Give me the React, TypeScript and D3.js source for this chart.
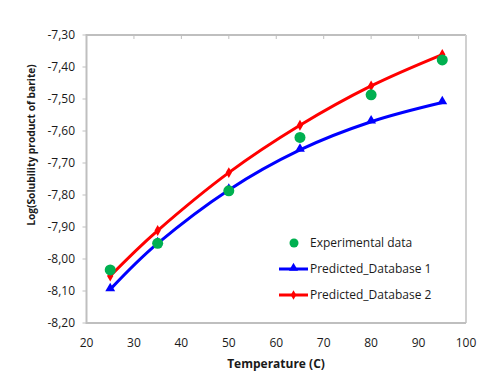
import React from "react";
import * as d3 from "d3";

const temps = [25, 35, 50, 65, 80, 95];
const experimental = [-8.034, -7.951, -7.787, -7.62, -7.487, -7.378];
const database1 = [-8.095, -7.951, -7.784, -7.659, -7.571, -7.511];
const database2 = [-8.053, -7.911, -7.73, -7.582, -7.459, -7.361];
const xTicks = [20, 30, 40, 50, 60, 70, 80, 90, 100];
const yTicks = [-8.2, -8.1, -8.0, -7.9, -7.8, -7.7, -7.6, -7.5, -7.4, -7.3];
const legendLabels = ["Experimental data", "Predicted_Database 1", "Predicted_Database 2"];

const W = 500;
const H = 382;
const L = 86.5, R = 466, T = 35, B = 323;
const FONT = "'Open Sans', sans-serif";

export default function App() {
  const x = d3.scaleLinear().domain([20, 100]).range([L, R]);
  const y = d3.scaleLinear().domain([-8.2, -7.3]).range([B, T]);
  const line = d3
    .line<number>()
    .x((_, i) => x(temps[i]))
    .y((d) => y(d))
    .curve(d3.curveCardinal.tension(0));
  const fmt = (v: number) => v.toFixed(2).replace(".", ",");
  const tri = d3.symbol().type(d3.symbolTriangle).size(42)();
  const dia = d3.symbol().type(d3.symbolDiamond).size(34)();
  const triSmall = d3.symbol().type(d3.symbolTriangle).size(36)();
  const diaSmall = d3.symbol().type(d3.symbolDiamond).size(26)();

  return (
    <svg width={W} height={H} style={{ position: "absolute", left: 0, top: 0 }}>
      <rect x={0} y={0} width={W} height={H} fill="#fff" />
      <line x1={L} x2={R} y1={T} y2={T} stroke="#bfbfbf" strokeWidth={2} />
      <line x1={R} x2={R} y1={T} y2={B} stroke="#d0d0d0" strokeWidth={2} />
      <line x1={L} x2={R} y1={B} y2={B} stroke="#bfbfbf" strokeWidth={2} />
      <line x1={L} x2={L} y1={T - 1} y2={B + 1} stroke="#bfbfbf" strokeWidth={2} />
      {xTicks.slice(1, -1).map((t) => (
        <line key={"xt" + t} x1={x(t)} x2={x(t)} y1={T} y2={T + 4} stroke="#bfbfbf" strokeWidth={1} />
      ))}
      {yTicks.map((t) => (
        <g key={"yt" + t}>
          <line x1={L - 4} x2={L} y1={y(t)} y2={y(t)} stroke="#bfbfbf" strokeWidth={1} />
          <text x={75} y={y(t)} dy="0.35em" textAnchor="end" fontFamily={FONT} fontSize={12} fill="#1a1a1a">
            {fmt(t)}
          </text>
        </g>
      ))}
      {xTicks.map((t) => (
        <text key={"xl" + t} x={x(t)} y={347} textAnchor="middle" fontFamily={FONT} fontSize={12} fill="#1a1a1a">
          {t}
        </text>
      ))}
      <text x={276} y={368} textAnchor="middle" fontFamily={FONT} fontSize={12} fontWeight="bold" fill="#1a1a1a">
        Temperature (C)
      </text>
      <text
        transform={`translate(35,145) rotate(-90)`}
        textAnchor="middle"
        fontFamily={FONT}
        fontSize={10.2}
        fontWeight="bold"
        fill="#1a1a1a"
      >
        Log(Solubility product of barite)
      </text>
      <path d={line(database2) || ""} fill="none" stroke="#ff0000" strokeWidth={3} />
      <path d={line(database1) || ""} fill="none" stroke="#0000ff" strokeWidth={3} />
      {database2.map((v, i) => (
        <path key={"d2" + i} d={dia || ""} transform={`translate(${x(temps[i])},${y(v)})`} fill="#ff0000" />
      ))}
      {database1.map((v, i) => (
        <path key={"d1" + i} d={tri || ""} transform={`translate(${x(temps[i])},${y(v) - 1})`} fill="#0000ff" />
      ))}
      {experimental.map((v, i) => (
        <circle key={"e" + i} cx={x(temps[i])} cy={y(v)} r={5.5} fill="#00b050" />
      ))}
      <circle cx={294} cy={243} r={4.5} fill="#00b050" />
      <text x={310} y={243} dy="0.35em" fontFamily={FONT} fontSize={12} fill="#1a1a1a">
        {legendLabels[0]}
      </text>
      <line x1={279} x2={308} y1={269} y2={269} stroke="#0000ff" strokeWidth={3} />
      <path d={triSmall || ""} transform="translate(293.5,268)" fill="#0000ff" />
      <text x={310} y={269} dy="0.35em" fontFamily={FONT} fontSize={12} fill="#1a1a1a">
        {legendLabels[1]}
      </text>
      <line x1={279} x2={308} y1={295} y2={295} stroke="#ff0000" strokeWidth={3} />
      <path d={diaSmall || ""} transform="translate(293.5,295)" fill="#ff0000" />
      <text x={310} y={295} dy="0.35em" fontFamily={FONT} fontSize={12} fill="#1a1a1a">
        {legendLabels[2]}
      </text>
    </svg>
  );
}
